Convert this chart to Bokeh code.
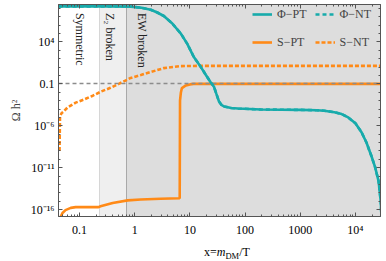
from bokeh.plotting import figure
from bokeh.layouts import column
from bokeh.models import (BoxAnnotation, Label, Legend, LegendItem, FixedTicker,
                          LogAxis, CustomJSTickFormatter, Div)
from bokeh.embed import file_html
from bokeh.resources import INLINE

# ---------------- data ----------------
x_lim = (0.0415, 28500)
y_lim = (1.51e-17, 2.95e8)

x_major_ticks = [0.1, 1, 10, 100, 1000, 10000]
x_tick_labels = ["0.1", "1", "10", "100", "1000", "10\u2074"]
y_major_ticks = [1e-16, 1e-11, 1e-6, 0.1, 1e4]
y_tick_labels = ["10\u207b\u00b9\u2076", "10\u207b\u00b9\u00b9", "10\u207b\u2076", "0.1", "10\u2074"]

omega_obs = 0.1
z2_start = 0.231
ew_start = 0.70
region_names = ["Symmetric", "Z\u2082 broken", "EW broken"]
region_label_x = [0.102, 0.355, 1.36]
region_label_top = 2.95e7

phi_pt_x = [0.0417, 0.316, 0.851, 1.26, 1.95, 2.51, 3.37, 4.79, 6.85, 8.91, 11.8, 15.1,
            19.5, 23.4, 27.3, 30.2, 33.7, 37.2, 41.7, 56.2, 74.1, 195, 452, 1000, 1995,
            2730, 4170, 5620, 7410, 10000, 12900, 15850, 19500, 22900, 26300, 28800, 30200]
phi_pt_y = [1.78e8, 1.78e8, 1.66e8, 1.26e8, 7.1e7, 3.5e7, 1.26e7, 1.6e6, 1e5, 6.3e3, 158, 16,
            1.15, 0.18, 0.045, 6.3e-3, 7.9e-4, 3.2e-4, 2e-4, 1.3e-4, 1.15e-4, 8.7e-5, 8.3e-5,
            7.9e-5, 7.2e-5, 6.3e-5, 4.2e-5, 2.5e-5, 1e-5, 2e-6, 1.7e-7, 1e-8, 2.5e-10, 1e-11,
            2.5e-13, 1e-15, 1e-18]
phi_nt_x = phi_pt_x
phi_nt_y = phi_pt_y

s_pt_x = [0.0427, 0.0452, 0.049, 0.0556, 0.0692, 0.0851, 0.221, 0.24, 0.398, 0.746, 1.29,
          2.95, 6.53, 6.62, 6.85, 7.16, 8.45, 10.0, 11.7, 28500]
s_pt_y = [1e-18, 1.26e-17, 4e-17, 8.7e-17, 1.6e-16, 2e-16, 2e-16, 2.5e-16, 6.3e-16, 1.26e-15,
          1.6e-15, 2e-15, 2.24e-15, 1e-3, 8.7e-3, 0.0316, 0.066, 0.087, 0.1, 0.1]

s_nt_x = [0.0433, 0.0442, 0.0471, 0.0513, 0.0603, 0.0851, 0.118, 0.174, 0.24, 0.363, 0.513,
          0.845, 1.29, 1.95, 3.37, 6.85, 15.8, 28500]
s_nt_y = [1e-9, 1.26e-5, 3.2e-5, 5e-5, 1.5e-4, 5.8e-4, 1.3e-3, 3.9e-3, 1.15e-2, 3.4e-2, 0.1,
          0.51, 1.15, 2.6, 7.6, 13.2, 14.1, 14.1]

CYAN = "#17abab"
ORANGE = "#ff8a17"
FONT = "Liberation Serif"
AXC = "#555555"

# ---------------- figure ----------------
p = figure(width=386, height=239, x_axis_type="log", y_axis_type="log",
           x_range=x_lim, y_range=y_lim, output_backend="svg", toolbar_location=None,
           min_border_left=58, min_border_right=6, min_border_top=4, min_border_bottom=20,
           background_fill_color="white", border_fill_color="white",
           outline_line_color=AXC)
p.grid.visible = False

x_minor = [m * 10.0 ** d for d in range(-2, 5) for m in range(2, 10)]
y_minor = [10.0 ** d for d in range(-17, 9)]

JS = """
const lt = Math.log10(tick);
for (let i = 0; i < major_vals.length; i++) {
  if (Math.abs(Math.log10(major_vals[i]) - lt) < 1e-6) return major_labels[i];
}
return "";
"""
fmt_x = CustomJSTickFormatter(args=dict(major_vals=x_major_ticks, major_labels=x_tick_labels), code=JS)
fmt_y = CustomJSTickFormatter(args=dict(major_vals=y_major_ticks, major_labels=y_tick_labels), code=JS)
fmt_blank = CustomJSTickFormatter(code='return "";')

def style_axis(ax, show_labels=True):
    ax.axis_line_color = AXC
    ax.major_tick_line_color = AXC
    ax.minor_tick_line_color = AXC
    ax.major_tick_in = 4
    ax.major_tick_out = 0
    ax.minor_tick_in = 2
    ax.minor_tick_out = 0
    ax.major_label_text_font = FONT
    ax.major_label_text_font_size = "12px" if show_labels else "1px"
    ax.major_label_text_color = "black"
    if not show_labels:
        ax.major_label_standoff = 0

xa = p.xaxis[0]
xa.ticker = FixedTicker(ticks=x_major_ticks, minor_ticks=x_minor)
xa.formatter = fmt_x
style_axis(xa)
xa.major_label_standoff = 6

ya = p.yaxis[0]
ya.ticker = FixedTicker(ticks=y_major_ticks, minor_ticks=y_minor)
ya.formatter = fmt_y
style_axis(ya)
ya.major_label_standoff = 4
ya.axis_label = "\u03a9 h\u00b2"
ya.axis_label_text_font = FONT
ya.axis_label_text_font_size = "12px"
ya.axis_label_text_font_style = "normal"
ya.axis_label_standoff = 5

top_ax = LogAxis(ticker=FixedTicker(ticks=x_major_ticks, minor_ticks=x_minor), formatter=fmt_blank)
style_axis(top_ax, False)
p.add_layout(top_ax, "above")
right_ax = LogAxis(ticker=FixedTicker(ticks=y_major_ticks, minor_ticks=y_minor), formatter=fmt_blank)
style_axis(right_ax, False)
p.add_layout(right_ax, "right")

# regions
p.add_layout(BoxAnnotation(left=z2_start, right=ew_start, fill_color="#efefef", fill_alpha=1,
                           line_alpha=0, level="underlay"))
p.add_layout(BoxAnnotation(left=ew_start, fill_color="#dddddd", fill_alpha=1,
                           line_alpha=0, level="underlay"))
p.vspan(x=[z2_start], line_color="#d6d6d6", line_width=1)
p.vspan(x=[ew_start], line_color="#a9a9a9", line_width=1)

for name, xpos in zip(region_names, region_label_x):
    p.add_layout(Label(x=xpos, y=region_label_top, text=name, angle=-1.5707963,
                       text_align="left", text_baseline="middle", text_font=FONT,
                       text_font_size="12px", text_color="#222222"))

# curves
r_s_nt = p.line(s_nt_x, s_nt_y, line_color=ORANGE, line_width=2.6, line_dash="4 2")
r_s_pt = p.line(s_pt_x, s_pt_y, line_color=ORANGE, line_width=2.6)
p.hspan(y=[omega_obs], line_color="#8c8c8c", line_width=1.4, line_dash="4 3")
r_phi_pt = p.line(phi_pt_x, phi_pt_y, line_color=CYAN, line_width=2.6)
r_phi_nt = p.line(phi_nt_x, phi_nt_y, line_color=CYAN, line_width=2.6, line_dash="4 3")

legend = Legend(items=[LegendItem(label="\u03a6\u2212PT", renderers=[r_phi_pt]),
                       LegendItem(label="\u03a6\u2212NT", renderers=[r_phi_nt]),
                       LegendItem(label="S\u2212PT", renderers=[r_s_pt]),
                       LegendItem(label="S\u2212NT", renderers=[r_s_nt])],
                orientation="horizontal", ncols=2, location=(192, 162),
                label_text_font=FONT, label_text_font_size="12px",
                glyph_width=20, glyph_height=20, label_height=20, label_standoff=5,
                spacing=8, padding=2, margin=0,
                background_fill_alpha=0, border_line_alpha=0)
p.add_layout(legend)

# x axis label as HTML text below the plot
xlab = Div(text=('<div style="position:relative; left:204px; top:5px; white-space:nowrap; '
                 'font-family:\'Liberation Serif\'; font-size:12px; line-height:14px; color:black">'
                 'x=<i>m</i><sub style="font-size:8.5px; vertical-align:-3px; line-height:0">DM</sub>/T'
                 '</div>'),
           width=386, height=22, margin=(0, 0, 0, 0))

layout = column(p, xlab, spacing=0)
open("out.html", "w").write(file_html(layout, INLINE))
